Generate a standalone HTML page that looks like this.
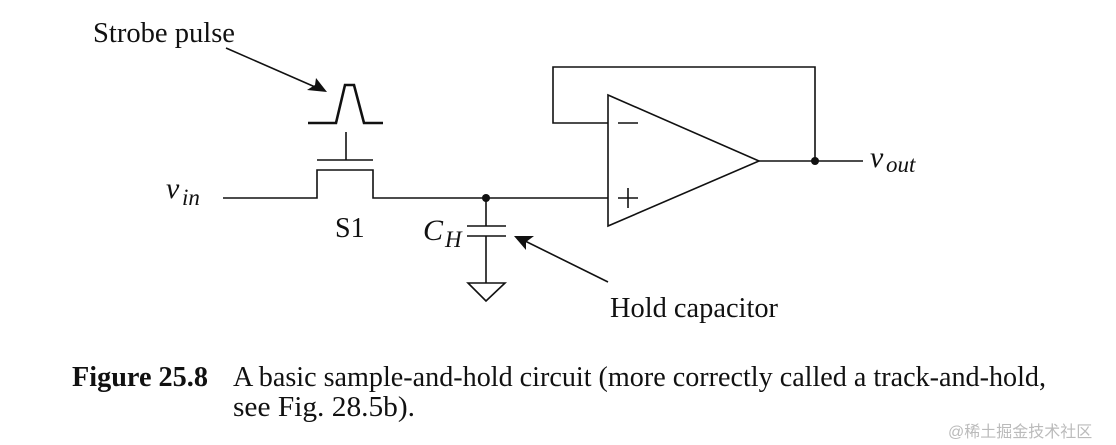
<!DOCTYPE html>
<html><head><meta charset="utf-8"><style>
html,body{margin:0;padding:0;background:#fff;}
svg{display:block}
text{font-family:"Liberation Serif",serif;fill:#111}
</style></head><body>
<svg width="1116" height="445" viewBox="0 0 1116 445" xmlns="http://www.w3.org/2000/svg">
<g stroke="#111" stroke-width="1.6" fill="none">
<polyline points="308,123 336,123 345,85 354,85 364,123 383,123" stroke-width="2.6"/>
<line x1="346" y1="132" x2="346" y2="160"/>
<line x1="317" y1="160" x2="373" y2="160"/>
<polyline points="223,198 317,198 317,170 373,170 373,198 608,198"/>
<line x1="486" y1="198" x2="486" y2="226"/>
<line x1="467" y1="226" x2="506" y2="226"/>
<line x1="467" y1="236" x2="506" y2="236"/>
<line x1="486" y1="236" x2="486" y2="283"/>
<polygon points="468,283 505,283 486,301"/>
<polygon points="608,95 608,226 759,161"/>
<polyline points="608,123 553,123 553,67 815,67 815,161"/>
<line x1="759" y1="161" x2="863" y2="161"/>
<line x1="618" y1="123" x2="638" y2="123"/>
<line x1="618" y1="198" x2="638" y2="198"/>
<line x1="628" y1="188" x2="628" y2="208"/>
<line x1="226" y1="48" x2="322" y2="90"/>
<line x1="608" y1="282" x2="519" y2="238"/>
</g>
<polygon points="327,92 307,90 315,85 316,78" fill="#111"/>
<polygon points="514,236 534,236 526,242 526,250" fill="#111"/>
<circle cx="486" cy="198" r="4" fill="#111"/>
<circle cx="815" cy="161" r="4" fill="#111"/>
<text x="93" y="42" font-size="28" textLength="142" lengthAdjust="spacingAndGlyphs">Strobe pulse</text>
<text x="166" y="198" font-size="30" font-style="italic">v</text>
<text x="182" y="205" font-size="23" font-style="italic">in</text>
<text x="335" y="237" font-size="28">S1</text>
<text x="423" y="240" font-size="30" font-style="italic">C</text>
<text x="445" y="247" font-size="23" font-style="italic">H</text>
<text x="870" y="167" font-size="30" font-style="italic">v</text>
<text x="886" y="172" font-size="23" font-style="italic">out</text>
<text x="610" y="317" font-size="28" textLength="168" lengthAdjust="spacingAndGlyphs">Hold capacitor</text>
<text x="72" y="386" font-size="28" font-weight="bold" textLength="136" lengthAdjust="spacingAndGlyphs">Figure 25.8</text>
<text x="233" y="386" font-size="28" textLength="813" lengthAdjust="spacingAndGlyphs">A basic sample-and-hold circuit (more correctly called a track-and-hold,</text>
<text x="233" y="416" font-size="28" textLength="182" lengthAdjust="spacingAndGlyphs">see Fig. 28.5b).</text>
<text x="948" y="437" font-size="16" style="font-family:'Liberation Sans','Noto Sans CJK SC',sans-serif;fill:#bbb">@稀土掘金技术社区</text>
</svg>
</body></html>
